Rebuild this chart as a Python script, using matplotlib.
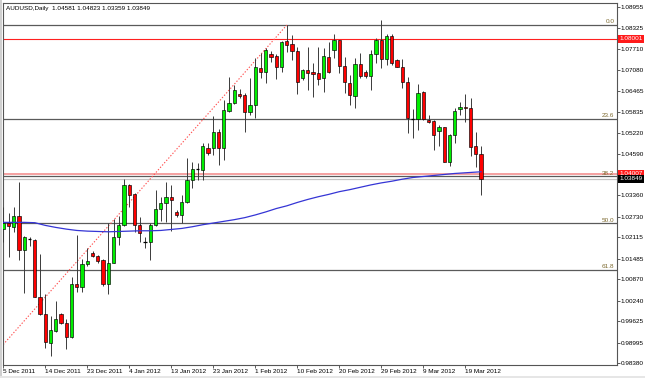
import matplotlib
matplotlib.use('Agg')
import matplotlib.pyplot as plt
from matplotlib.transforms import blended_transform_factory
from matplotlib.patches import Rectangle

plt.rcParams['font.family'] = ['Liberation Sans', 'DejaVu Sans']

# ---------------- data ----------------
symbol_title = "AUDUSD,Daily"
last_ohlc = ["1.04581", "1.04823", "1.03359", "1.03849"]

opens = [1.0235, 1.0253, 1.0243, 1.0275, 1.0174, 1.0206, 1.0204, 1.0036, 0.9984, 0.9899,
         0.9935, 0.9984, 0.9958, 0.9915, 1.0072, 1.0065, 1.0133, 1.0164, 1.0156, 1.0144,
         1.0073, 1.0136, 1.0213, 1.0248, 1.0367, 1.0339, 1.0248, 1.0199, 1.0197, 1.0248,
         1.0295, 1.0313, 1.0332, 1.0287, 1.0278, 1.0317, 1.0382, 1.0413, 1.0411, 1.0476,
         1.0477, 1.0525, 1.0477, 1.0587, 1.0609, 1.0638, 1.0634, 1.0584, 1.0604, 1.0715,
         1.0703, 1.0754, 1.0750, 1.0716, 1.0794, 1.0784, 1.0764, 1.0683, 1.0708, 1.0702,
         1.0698, 1.0683, 1.0747, 1.0767, 1.0797, 1.0721, 1.0670, 1.0631, 1.0725, 1.0703,
         1.0690, 1.0754, 1.0797, 1.0740, 1.0809, 1.0737, 1.0718, 1.0671, 1.0562, 1.0563,
         1.0643, 1.0560, 1.0557, 1.0528, 1.0538, 1.0436, 1.0515, 1.0591, 1.0597, 1.0594,
         1.0482, 1.04581]
highs = [1.0302, 1.0283, 1.0302, 1.0377, 1.0216, 1.0212, 1.0206, 1.0162, 1.0044, 0.9978,
         1.0023, 0.9988, 0.9968, 1.0094, 1.0219, 1.0146, 1.0179, 1.0172, 1.0159, 1.0146,
         1.0253, 1.0265, 1.0275, 1.0384, 1.0370, 1.0342, 1.0273, 1.0213, 1.0253, 1.0352,
         1.0330, 1.0377, 1.0367, 1.0293, 1.0337, 1.0448, 1.0436, 1.0431, 1.0490, 1.0490,
         1.0572, 1.0533, 1.0619, 1.0688, 1.0663, 1.0651, 1.0639, 1.0683, 1.0743, 1.0757,
         1.0772, 1.0764, 1.0754, 1.0794, 1.0841, 1.0812, 1.0776, 1.0711, 1.0777, 1.0729,
         1.0777, 1.0772, 1.0791, 1.0814, 1.0798, 1.0747, 1.0693, 1.0743, 1.0757, 1.0708,
         1.0767, 1.0802, 1.0856, 1.0815, 1.0815, 1.0740, 1.0740, 1.0688, 1.0591, 1.0666,
         1.0646, 1.0574, 1.0560, 1.0545, 1.0539, 1.0518, 1.0594, 1.0614, 1.0637, 1.0624,
         1.0525, 1.04823]
lows = [1.0199, 1.0152, 1.0228, 1.0144, 1.0046, 1.0187, 1.0034, 0.9981, 0.9883, 0.9860,
        0.9931, 0.9955, 0.9880, 0.9912, 1.0050, 1.0050, 1.0127, 1.0152, 1.0135, 1.0067,
        1.0044, 1.0135, 1.0189, 1.0246, 1.0302, 1.0228, 1.0199, 1.0179, 1.0144, 1.0245,
        1.0259, 1.0258, 1.0231, 1.0273, 1.0253, 1.0313, 1.0357, 1.0382, 1.0382, 1.0456,
        1.0456, 1.0426, 1.0441, 1.0584, 1.0606, 1.0626, 1.0525, 1.0574, 1.0565, 1.0683,
        1.0668, 1.0732, 1.0681, 1.0703, 1.0762, 1.0737, 1.0637, 1.0678, 1.0649, 1.0628,
        1.0663, 1.0643, 1.0699, 1.0743, 1.0699, 1.0639, 1.0604, 1.0594, 1.0683, 1.0683,
        1.0649, 1.0728, 1.0713, 1.0723, 1.0723, 1.0716, 1.0654, 1.0521, 1.0505, 1.0530,
        1.0560, 1.0550, 1.0471, 1.0482, 1.0435, 1.0423, 1.0492, 1.0574, 1.0555, 1.0453,
        1.0419, 1.03359]
closes = [1.0255, 1.0246, 1.0275, 1.0174, 1.0213, 1.0206, 1.0036, 0.9984, 0.9900, 0.9937,
          0.9968, 0.9958, 0.9915, 1.0073, 1.0065, 1.0133, 1.0142, 1.0156, 1.0142, 1.0073,
          1.0136, 1.0212, 1.0248, 1.0367, 1.0337, 1.0248, 1.0224, 1.0199, 1.0248, 1.0295,
          1.0313, 1.0332, 1.0322, 1.0277, 1.0317, 1.0382, 1.0414, 1.0413, 1.0482, 1.0463,
          1.0525, 1.0477, 1.0589, 1.0609, 1.0649, 1.0631, 1.0584, 1.0604, 1.0716, 1.0701,
          1.0767, 1.0747, 1.0716, 1.0792, 1.0782, 1.0764, 1.0672, 1.0708, 1.0700, 1.0696,
          1.0681, 1.0748, 1.0701, 1.0797, 1.0721, 1.0673, 1.0634, 1.0725, 1.0690, 1.0690,
          1.0754, 1.0797, 1.0740, 1.0808, 1.0728, 1.0718, 1.0671, 1.0565, 1.0562, 1.0641,
          1.0563, 1.0555, 1.0515, 1.0538, 1.0436, 1.0515, 1.0587, 1.0599, 1.0594, 1.0480,
          1.0458, 1.03849]

x_tick_pos = [0, 8, 16, 24, 32, 40, 48, 56, 64, 72, 80, 88]
x_tick_labels = ["5 Dec 2011", "14 Dec 2011", "23 Dec 2011", "4 Jan 2012", "13 Jan 2012",
                 "23 Jan 2012", "1 Feb 2012", "10 Feb 2012", "20 Feb 2012", "29 Feb 2012",
                 "9 Mar 2012", "19 Mar 2012"]
y_ticks = [0.98380, 0.98995, 0.99625, 1.00240, 1.00870, 1.01485, 1.02115, 1.02730,
           1.03360, 1.04590, 1.05220, 1.05835, 1.06465, 1.07080, 1.07710, 1.08325, 1.08955]

ma_idx = list(range(0, 92, 2)) + [91]
ma_vals = [1.0256, 1.0256, 1.0256, 1.0255, 1.0247, 1.0241, 1.0236, 1.0232, 1.0230, 1.0229,
           1.0228, 1.0229, 1.0230, 1.0231, 1.0231, 1.0232, 1.0235, 1.0238, 1.0243, 1.0249,
           1.0254, 1.0259, 1.0264, 1.0270, 1.0278, 1.0287, 1.0297, 1.0305, 1.0315, 1.0324,
           1.0332, 1.0339, 1.0347, 1.0353, 1.0360, 1.0367, 1.0373, 1.0378, 1.0384, 1.0389,
           1.0392, 1.0395, 1.0398, 1.0401, 1.0403, 1.0405, 1.0406]

fib_high, fib_high_bar = 1.0841, 54
fib_low, fib_low_bar = 0.9666, -13
fib_levels = [0.0, 23.6, 38.2, 50.0, 61.8]
fib_labels = ["0.0", "23.6", "38.2", "50.0", "61.8"]

red_lines = [1.08001, 1.04007]
bid_price = 1.03849

# ---------------- figure ----------------
W, H = 645, 378
fig = plt.figure(figsize=(W / 100, H / 100), dpi=100)
fig.patch.set_facecolor('white')
ax = fig.add_axes([3 / W, 13 / H, 614 / W, 362 / H])
ax.set_facecolor('white')
ax.set_xlim(-0.057, 116.9)
ax.set_ylim(0.98330, 1.09065)

for s in ax.spines.values():
    s.set_color('#555555')
    s.set_linewidth(0.8)

FS = 4.6
# fib levels
rng = fib_high - fib_low
for lv, lab in zip(fib_levels, fib_labels):
    p = fib_high - rng * lv / 100.0
    ax.axhline(p, color='#5a5a5a', lw=0.9, zorder=1)
    ax.text(116.4, p + 0.0002, lab, ha='right', va='bottom', fontsize=FS,
            color='#7d6a30', zorder=6)
ax.plot([fib_low_bar, fib_high_bar], [fib_low, fib_high], color='#ff5050',
        lw=0.8, ls=(0, (1.2, 1.6)), zorder=2)

# user lines
ax.axhline(red_lines[0], color='#ff2020', lw=0.8, zorder=1)
ax.axhline(red_lines[1], color='#f49a9a', lw=1.3, zorder=1)
ax.axhline(bid_price, color='#c4c4c4', lw=0.9, zorder=1)

# candles
n = len(opens)
xs = list(range(n))
ax.vlines(xs, lows, highs, color='#3a3a3a', lw=0.7, zorder=3)
for i in xs:
    o, c = opens[i], closes[i]
    if o == c:
        ax.hlines(o, i - 0.32, i + 0.32, color='black', lw=0.9, zorder=4)
    else:
        col = '#00ee00' if c > o else '#ff0000'
        ax.bar(i, abs(c - o), bottom=min(o, c), width=0.6, color=col,
               edgecolor='black', linewidth=0.45, zorder=4)

# moving average
ax.plot(ma_idx, ma_vals, color='#3535d5', lw=0.9, zorder=5)

# axes ticks
ax.yaxis.tick_right()
ax.set_yticks(y_ticks)
ax.set_yticklabels([f"{v:.5f}" for v in y_ticks])
ax.tick_params(axis='y', direction='out', length=2, width=0.6, color='#404040',
               labelsize=FS, pad=0.8)
ax.set_xticks(x_tick_pos)
ax.set_xticklabels(x_tick_labels, ha='left')
ax.tick_params(axis='x', direction='out', length=2, width=0.6, color='#404040',
               labelsize=FS, pad=0.8)

# price boxes on the right scale
tr = blended_transform_factory(ax.transAxes, ax.transData)
for val, fc in [(red_lines[0], '#ff1a1a'), (red_lines[1], '#ff1a1a'), (bid_price, '#000000')]:
    ax.text(1.004, val, f"{val:.5f}", transform=tr, ha='left', va='center',
            fontsize=FS, color='white', clip_on=False, zorder=10,
            bbox=dict(boxstyle='square,pad=0.18', fc=fc, ec='none'))

# title text
fig.text(6 / W, 1 - 8.2 / H, symbol_title + "  " + " ".join(last_ohlc),
         fontsize=FS, va='center', ha='left', color='black')

# window frame strips
fig.add_artist(Rectangle((0, 0), 2 / W, 1, transform=fig.transFigure,
                         fc='#d0d0d0', ec='none'))
fig.add_artist(Rectangle((0, 0), 1, 2.5 / H, transform=fig.transFigure,
                         fc='#e6e6e6', ec='none'))

fig.savefig('out.png', dpi=100, facecolor='white')
